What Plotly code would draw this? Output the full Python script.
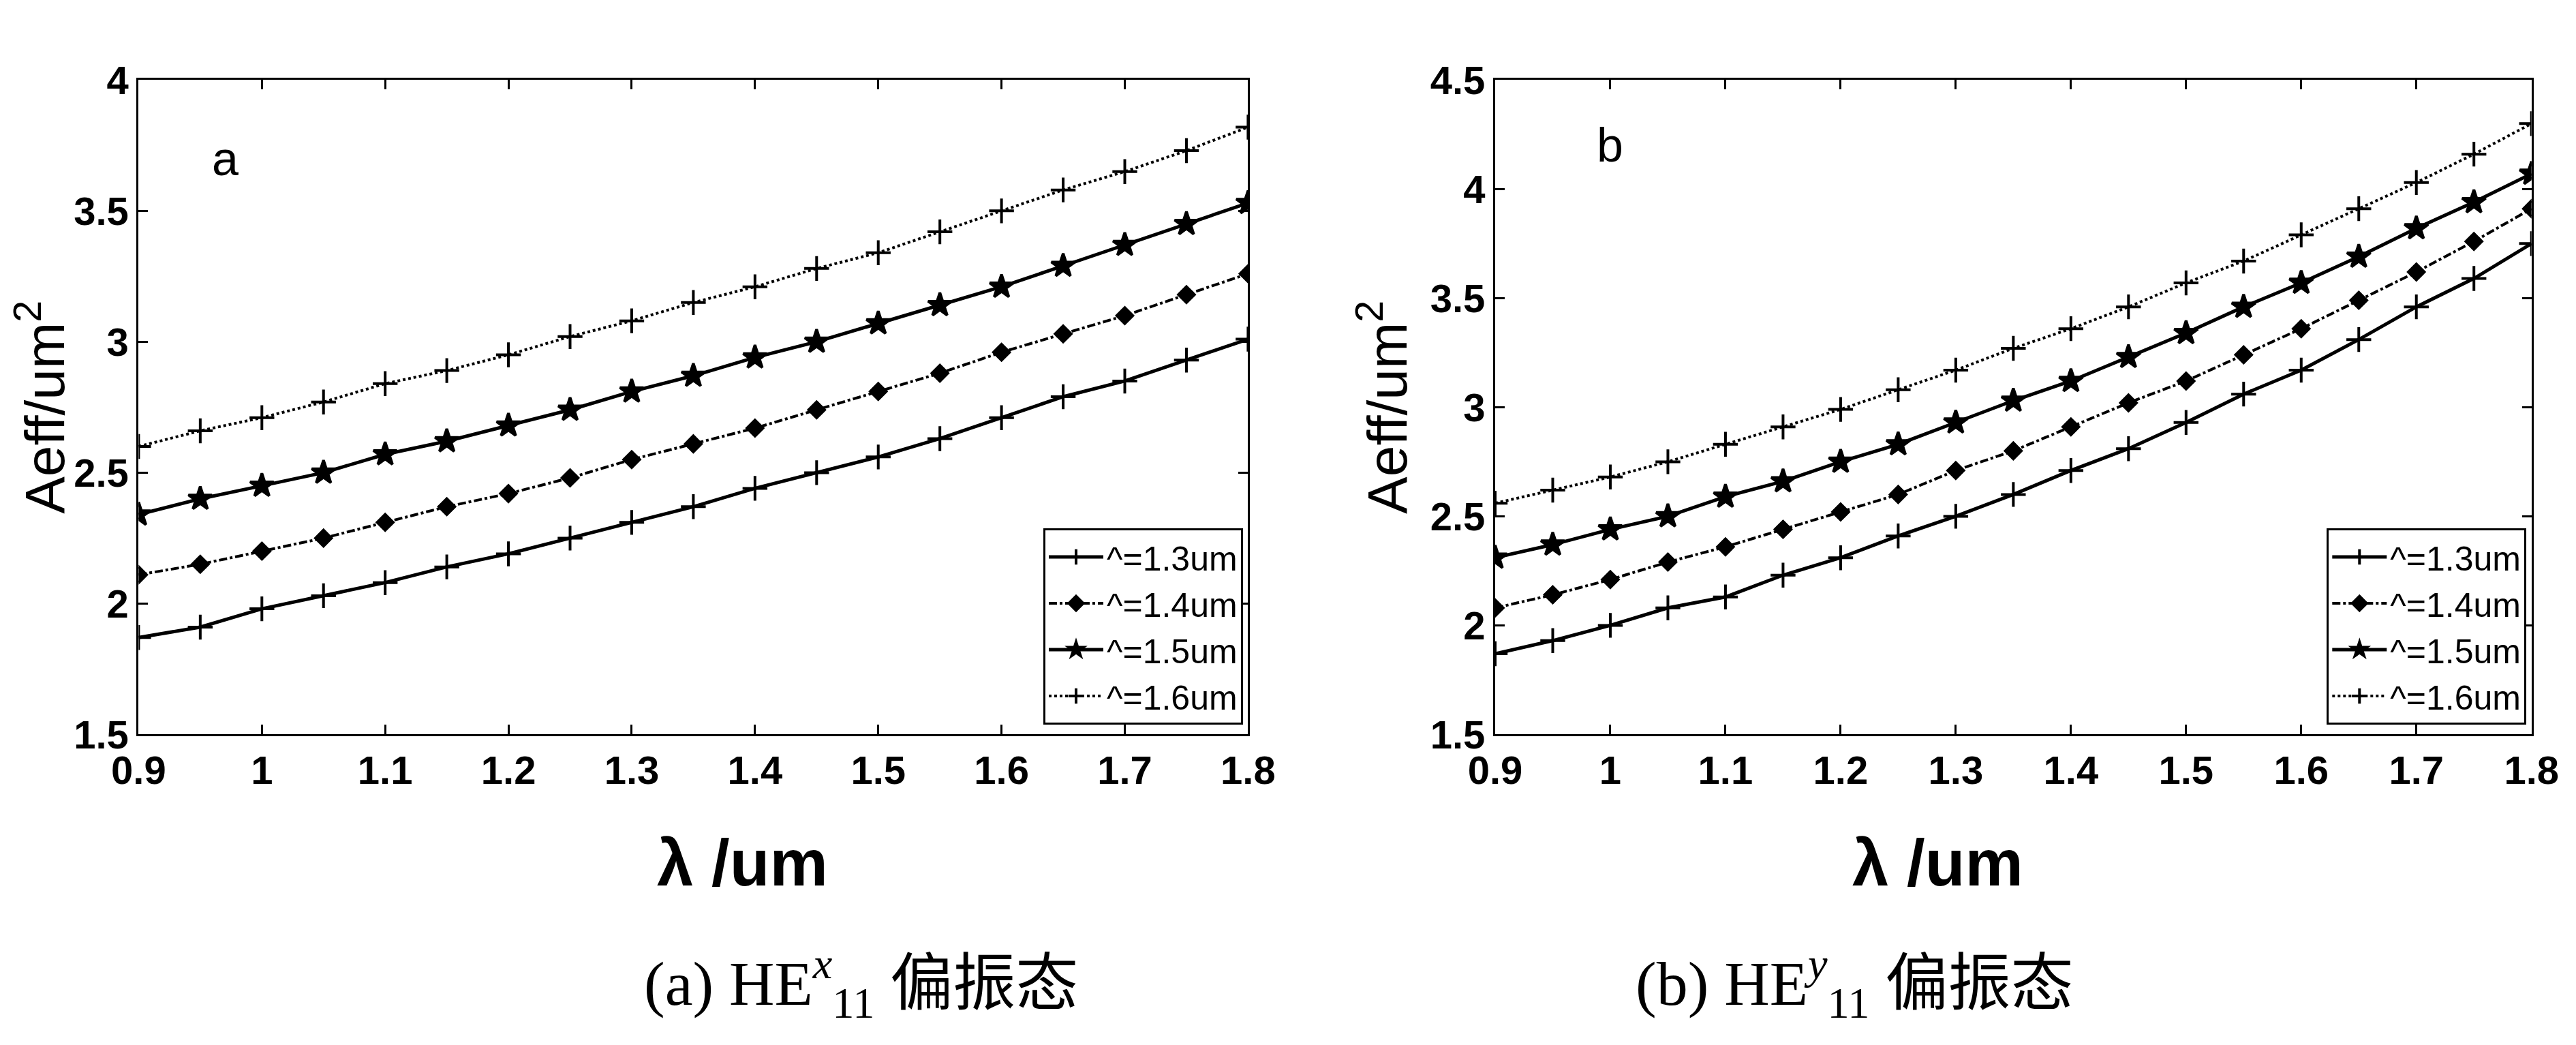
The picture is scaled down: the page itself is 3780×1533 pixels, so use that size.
import plotly.graph_objects as go

wavelength = [0.9, 0.95, 1.0, 1.05, 1.1, 1.15, 1.2, 1.25, 1.3, 1.35, 1.4,
              1.45, 1.5, 1.55, 1.6, 1.65, 1.7, 1.75, 1.8]
series_names = ["^=1.3um", "^=1.4um", "^=1.5um", "^=1.6um"]

# (a) HE11 x polarisation
aeff_x_13 = [1.87, 1.91, 1.98, 2.03, 2.08, 2.14, 2.19, 2.25, 2.31, 2.37, 2.44,
             2.50, 2.56, 2.63, 2.71, 2.79, 2.85, 2.93, 3.01]
aeff_x_14 = [2.11, 2.15, 2.20, 2.25, 2.31, 2.37, 2.42, 2.48, 2.55, 2.61, 2.67,
             2.74, 2.81, 2.88, 2.96, 3.03, 3.10, 3.18, 3.26]
aeff_x_15 = [2.34, 2.40, 2.45, 2.50, 2.57, 2.62, 2.68, 2.74, 2.81, 2.87, 2.94,
             3.00, 3.07, 3.14, 3.21, 3.29, 3.37, 3.45, 3.53]
aeff_x_16 = [2.60, 2.66, 2.71, 2.77, 2.84, 2.89, 2.95, 3.02, 3.08, 3.15, 3.21,
             3.28, 3.34, 3.42, 3.50, 3.58, 3.65, 3.73, 3.82]

# (b) HE11 y polarisation
aeff_y_13 = [1.87, 1.93, 2.00, 2.08, 2.13, 2.23, 2.31, 2.41, 2.50, 2.60, 2.71,
             2.81, 2.93, 3.06, 3.17, 3.31, 3.46, 3.59, 3.75]
aeff_y_14 = [2.08, 2.14, 2.21, 2.29, 2.36, 2.44, 2.52, 2.60, 2.71, 2.80, 2.91,
             3.02, 3.12, 3.24, 3.36, 3.49, 3.62, 3.76, 3.91]
aeff_y_15 = [2.31, 2.37, 2.44, 2.50, 2.59, 2.66, 2.75, 2.83, 2.93, 3.03, 3.12,
             3.23, 3.34, 3.46, 3.57, 3.69, 3.82, 3.94, 4.07]
aeff_y_16 = [2.56, 2.62, 2.68, 2.75, 2.83, 2.91, 2.99, 3.08, 3.17, 3.27, 3.36,
             3.46, 3.57, 3.67, 3.79, 3.91, 4.03, 4.16, 4.30]

styles = [("solid", "cross-thin-open", 26), ("dashdot", "diamond", 18),
          ("solid", "star", 26), ("dot", "cross-thin-open", 26)]

fig = go.Figure()

def add_panel(ys, xa, ya, legend):
    for name, y, (dash, sym, size) in zip(series_names, ys, styles):
        fig.add_trace(go.Scatter(
            x=wavelength, y=y, name=name, mode="lines+markers",
            xaxis=xa, yaxis=ya, legend=legend,
            line=dict(color="black", width=5 if dash == "solid" else 4, dash=dash),
            marker=dict(symbol=sym, size=size, color="black",
                        line=dict(color="black", width=4)),
        ))

add_panel([aeff_x_13, aeff_x_14, aeff_x_15, aeff_x_16], "x", "y", "legend")
add_panel([aeff_y_13, aeff_y_14, aeff_y_15, aeff_y_16], "x2", "y2", "legend2")

tick_font = dict(family="Liberation Sans, Arial", size=58, color="black", weight="bold")
axis_common = dict(showline=True, mirror="ticks", linecolor="black", linewidth=3,
                   ticks="inside", ticklen=14, tickwidth=3, tickcolor="black",
                   showgrid=False, zeroline=False, tickfont=tick_font)
ytitle_font = dict(family="Liberation Sans, Arial", size=82, color="black")
legend_font = dict(family="Liberation Sans, Arial", size=50, color="black")

fig.update_layout(
    width=3780, height=1533, paper_bgcolor="white", plot_bgcolor="white",
    margin=dict(l=0, r=0, t=0, b=0),
    xaxis=dict(domain=[0.042, 0.482], range=[0.9, 1.8], dtick=0.1, **axis_common),
    xaxis2=dict(domain=[0.58, 0.991], range=[0.9, 1.8], dtick=0.1, **axis_common),
    yaxis=dict(domain=[0.294, 0.948], range=[1.5, 4], dtick=0.5, anchor="x",
               title=dict(text="Aeff/um<sup>2</sup>", standoff=8, font=ytitle_font),
               **axis_common),
    yaxis2=dict(domain=[0.294, 0.948], range=[1.5, 4.5], dtick=0.5, anchor="x2",
                title=dict(text="Aeff/um<sup>2</sup>", standoff=8, font=ytitle_font),
                **axis_common),
    legend=dict(x=0.48, y=0.5, xanchor="right", yanchor="top",
                bordercolor="black", borderwidth=3, bgcolor="white",
                font=legend_font, tracegroupgap=0, itemwidth=80),
    legend2=dict(x=0.989, y=0.5, xanchor="right", yanchor="top",
                 bordercolor="black", borderwidth=3, bgcolor="white",
                 font=legend_font, tracegroupgap=0, itemwidth=80),
    font=dict(color="black"),
)

ann_font = dict(family="Liberation Sans, Arial", size=70, color="black")
fig.add_annotation(x=0.97, y=3.7, xref="x", yref="y", text="a",
                   showarrow=False, font=ann_font)
fig.add_annotation(x=1.0, y=4.2, xref="x2", yref="y2", text="b",
                   showarrow=False, font=ann_font)

for xc in [0.247, 0.79]:
    fig.add_annotation(x=xc, y=0.128, xref="paper", yref="paper", text="λ /um",
                       showarrow=False,
                       font=dict(family="Liberation Sans, Arial", size=96,
                                 color="black", weight="bold"))

cap_font = dict(family="Liberation Serif, Noto Sans CJK SC", size=92, color="black")
fig.add_annotation(x=0.242, y=0.0, xref="paper", yref="paper", showarrow=False,
                   yanchor="bottom",
                   text="(a) HE<sup><i>x</i></sup><sub>11</sub> 偏振态", font=cap_font)
fig.add_annotation(x=0.81, y=0.0, xref="paper", yref="paper", showarrow=False,
                   yanchor="bottom",
                   text="(b) HE<sup><i>y</i></sup><sub>11</sub> 偏振态", font=cap_font)

fig.write_html("out.html")
